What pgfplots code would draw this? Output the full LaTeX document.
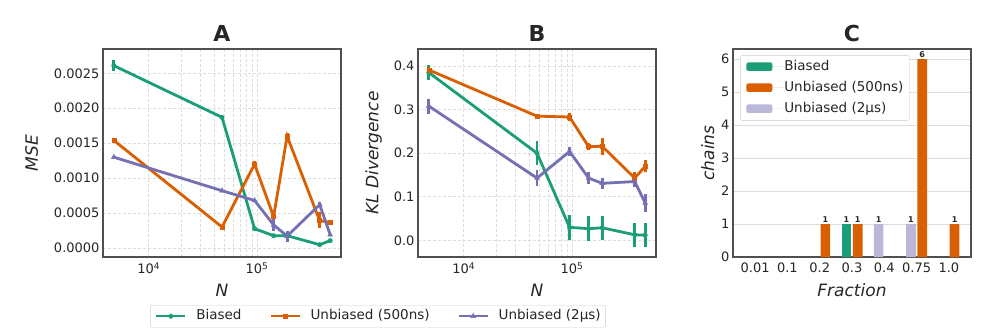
\documentclass[border=0pt]{standalone}
\usepackage{fontspec}
\setmainfont{DejaVu Sans}
\usepackage{pgfplots}
\pgfplotsset{compat=1.18}
\definecolor{cgreen}{HTML}{1B9E77}
\definecolor{corange}{HTML}{D95F02}
\definecolor{cpurple}{HTML}{7570B3}
\definecolor{clav}{HTML}{BAB8D9}
\definecolor{inkDark}{HTML}{262626}
\definecolor{frameGray}{HTML}{505050}
\definecolor{gridGray}{HTML}{DDDDDD}
\definecolor{legGray}{HTML}{CCCCCC}

\pgfplotsset{
  panel/.style={
    scale only axis, width=238pt, height=208pt, anchor=north west,
    axis line style={draw=frameGray, line width=1.3pt},
    tick label style={font=\fontsize{13}{13}\selectfont, text=inkDark},
    x tick label style={yshift=-2pt},
    label style={font=\fontsize{17}{17}\selectfont\itshape, text=inkDark},
    xlabel shift=4pt,
    title style={font=\fontsize{22}{22}\selectfont\bfseries, text=inkDark, yshift=-2pt},
    major tick length=0pt, minor tick length=0pt,
    scaled y ticks=false,
    clip=false,
  },
  gline/.style={cgreen, line width=2.8pt, mark=*, mark size=2.2pt, mark options={solid, line width=0.5pt}},
  oline/.style={corange, line width=2.8pt, mark=square*, mark size=2pt, mark options={solid, line width=0.5pt}},
  pline/.style={cpurple, line width=2.8pt, mark=triangle*, mark size=2.8pt, mark options={solid, line width=0.5pt}},
  ebars/.style={#1, line width=2.8pt, no marks, unbounded coords=jump, forget plot},
}

\begin{document}
\begin{tikzpicture}
\useasboundingbox (0pt,0pt) rectangle (997pt,-332pt);

% ---- A: MSE ----
\begin{axis}[panel, at={(103pt,-49pt)},
    xmode=log, xmin=3773, xmax=598000,
    xtick={10000,100000}, xticklabels={10\textsuperscript{4},10\textsuperscript{5}},
    grid=both,
    major grid style={gridGray, line width=0.8pt, dash pattern=on 3pt off 2pt},
    minor grid style={gridGray, line width=0.8pt, dash pattern=on 3pt off 2pt},
    ymin=-0.000129, ymax=0.002848,
    ytick={0,0.0005,0.001,0.0015,0.002,0.0025},
    yticklabel style={/pgf/number format/fixed, /pgf/number format/precision=4,
      /pgf/number format/zerofill, /pgf/number format/assume math mode=true},
    title={A}, xlabel={N}, ylabel={MSE}, ylabel shift=9pt,
    legend columns=3,
    legend style={at={(1.1555,-0.2308)}, anchor=north, draw=legGray, rounded corners=2pt,
      font=\fontsize{13.5}{14}\selectfont, text=inkDark, inner xsep=5pt, inner ysep=4.5pt,
      nodes={inner sep=0pt, text height=10pt, text depth=3pt},
      /tikz/every odd column/.append style={column sep=10pt},
      /tikz/every even column/.append style={column sep=28pt}},
    legend image code/.code={
      \draw[#1, line width=2pt, mark=none] (0pt,0pt) -- (29pt,0pt);
      \draw[#1, line width=0.5pt] plot coordinates {(14.5pt,0pt)};},
  ]
  \addplot[gline] table {
    x y
    4750 0.00261
    47500 0.00187
    95000 0.000276
    142500 0.000176
    190000 0.000176
    380000 0.000047
    475000 0.000105
  };
  \addplot[oline] table {
    x y
    4750 0.00154
    47500 0.0003
    95000 0.0012
    142500 0.00045
    190000 0.0016
    380000 0.00039
    475000 0.00037
  };
  \addplot[pline] table {
    x y
    4750 0.0013
    47500 0.00082
    95000 0.00068
    142500 0.00033
    190000 0.00017
    380000 0.00062
    475000 0.00019
  };
  % error bars (low / high ends)
  \addplot[ebars=cgreen] table {
    x y
    4750 0.00253
    4750 0.00269
    nan nan
    95000 0.000256
    95000 0.000296
    nan nan
    380000 0.000027
    380000 0.000067
  };
  \addplot[ebars=corange] table {
    x y
    4750 0.0015
    4750 0.00158
    nan nan
    95000 0.00115
    95000 0.00125
    nan nan
    142500 0.00041
    142500 0.00049
    nan nan
    190000 0.00156
    190000 0.00164
    nan nan
    380000 0.00028
    380000 0.00052
    nan nan
    475000 0.00034
    475000 0.0004
  };
  \addplot[ebars=cpurple] table {
    x y
    142500 0.00025
    142500 0.00041
    nan nan
    190000 0.00009
    190000 0.00025
    nan nan
    380000 0.00058
    380000 0.00066
  };
  \legend{Biased, Unbiased (500ns), Unbiased (2µs)}
\end{axis}

% ---- B: KL divergence ----
\begin{axis}[panel, at={(418pt,-49pt)},
    xmode=log, xmin=3773, xmax=598000,
    xtick={10000,100000}, xticklabels={10\textsuperscript{4},10\textsuperscript{5}},
    grid=both,
    major grid style={gridGray, line width=0.8pt, dash pattern=on 3pt off 2pt},
    minor grid style={gridGray, line width=0.8pt, dash pattern=on 3pt off 2pt},
    ymin=-0.038, ymax=0.439,
    ytick={0,0.1,0.2,0.3,0.4},
    yticklabel style={/pgf/number format/fixed, /pgf/number format/precision=1,
      /pgf/number format/zerofill, /pgf/number format/assume math mode=true},
    title={B}, xlabel={N}, ylabel={KL Divergence}, ylabel shift=5pt,
  ]
  \addplot[gline] table {
    x y
    4750 0.385
    47500 0.200
    95000 0.030
    142500 0.027
    190000 0.029
    380000 0.013
    475000 0.012
  };
  \addplot[oline] table {
    x y
    4750 0.391
    47500 0.285
    95000 0.283
    142500 0.215
    190000 0.216
    380000 0.143
    475000 0.170
  };
  \addplot[pline] table {
    x y
    4750 0.308
    47500 0.143
    95000 0.204
    142500 0.143
    190000 0.131
    380000 0.135
    475000 0.086
  };
  \addplot[ebars=cgreen] table {
    x y
    4750 0.367
    4750 0.403
    nan nan
    47500 0.173
    47500 0.227
    nan nan
    95000 0.002
    95000 0.058
    nan nan
    142500 -0.001
    142500 0.055
    nan nan
    190000 0.001
    190000 0.057
    nan nan
    380000 -0.014
    380000 0.040
    nan nan
    475000 -0.015
    475000 0.039
  };
  \addplot[ebars=corange] table {
    x y
    4750 0.385
    4750 0.397
    nan nan
    95000 0.273
    95000 0.293
    nan nan
    142500 0.207
    142500 0.223
    nan nan
    190000 0.196
    190000 0.236
    nan nan
    380000 0.128
    380000 0.158
    nan nan
    475000 0.156
    475000 0.184
  };
  \addplot[ebars=cpurple] table {
    x y
    4750 0.291
    4750 0.325
    nan nan
    47500 0.125
    47500 0.161
    nan nan
    95000 0.193
    95000 0.215
    nan nan
    142500 0.130
    142500 0.156
    nan nan
    190000 0.118
    190000 0.144
    nan nan
    380000 0.122
    380000 0.148
    nan nan
    475000 0.065
    475000 0.107
  };
\end{axis}

% ---- C: chains per fraction ----
\begin{axis}[panel, at={(733pt,-49pt)},
    xmin=-0.685, xmax=6.685, ymin=0, ymax=6.31,
    xtick={0,...,6}, xticklabels={0.01,0.1,0.2,0.3,0.4,0.75,1.0},
    ytick={0,...,6},
    yticklabel style={/pgf/number format/assume math mode=true},
    ymajorgrids, major grid style={gridGray, line width=0.8pt},
    title={C}, xlabel={Fraction}, ylabel={chains},
    ybar, bar width=0.3,
    nodes near coords,
    nodes near coords style={/pgf/number format/assume math mode=true},
    every node near coord/.append style={font=\fontsize{8}{8}\selectfont\bfseries, text=inkDark, inner sep=1.5pt},
    legend style={at={(0.03,0.97)}, anchor=north west, draw=legGray, rounded corners=2pt,
      font=\fontsize{13.5}{14}\selectfont, text=inkDark, row sep=8pt, inner xsep=6pt, inner ysep=5pt,
      nodes={inner sep=0pt, text height=10pt, text depth=3pt}},
    legend cell align=left,
    legend image code/.code={
      \fill[#1, draw=none] (0pt,-4pt) rectangle (26pt,4.5pt);
      \path (0pt,0pt) -- (38pt,0pt);},
  ]
  \addplot[fill=cgreen, draw=none, bar shift=0pt] coordinates {(2.825,1)};
  \addplot[fill=corange, draw=none, bar shift=0pt] coordinates {(2.175,1) (3.175,1) (5.175,6) (6.175,1)};
  \addplot[fill=clav, draw=none, bar shift=0pt] coordinates {(3.825,1) (4.825,1)};
  \legend{Biased, Unbiased (500ns), Unbiased (2µs)}
\end{axis}
\end{tikzpicture}
\end{document}
